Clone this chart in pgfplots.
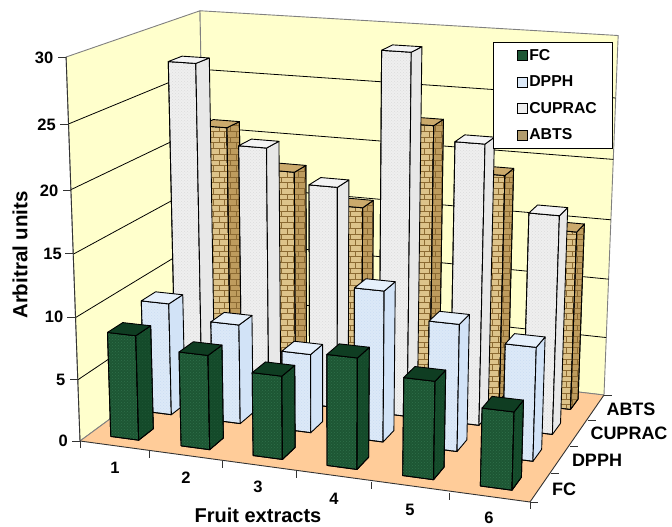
\documentclass[border=0pt]{standalone}
\usepackage{pgfplots}
\usepackage{pgfplotstable}
\usepackage{fontspec}
\setmainfont{Liberation Sans}
\pgfplotsset{compat=1.18}
\usetikzlibrary{patterns}

\definecolor{wallc}{HTML}{FFFFCC}
\definecolor{floorc}{HTML}{FFCC99}
\definecolor{fcA}{HTML}{1D5634}\definecolor{fcB}{HTML}{144A2A}\definecolor{fcT}{HTML}{0F3D22}\definecolor{fcP}{HTML}{2F7049}
\definecolor{dpA}{HTML}{DCE9F8}\definecolor{dpB}{HTML}{D2E3F7}\definecolor{dpT}{HTML}{E6F0FB}\definecolor{dpP}{HTML}{CBDDF2}
\definecolor{cuA}{HTML}{EFEFEF}\definecolor{cuB}{HTML}{E8E8E8}\definecolor{cuT}{HTML}{F4F4F4}\definecolor{cuP}{HTML}{DCDCDC}
\definecolor{abA}{HTML}{DDC38A}\definecolor{abB}{HTML}{BE9C5E}\definecolor{abT}{HTML}{CBAA6C}\definecolor{abP}{HTML}{8C6A32}

\pgfplotsset{
  FCfront/.style={fill=fcA,postaction={pattern=crosshatch dots,pattern color=fcP}},
  FCside/.style={fill=fcB,postaction={pattern=crosshatch dots,pattern color=fcA}},
  FCtop/.style={fill=fcT},
  DPfront/.style={fill=dpA,postaction={pattern=crosshatch dots,pattern color=dpP}},
  DPside/.style={fill=dpB},
  DPtop/.style={fill=dpT},
  CUfront/.style={fill=cuA,postaction={pattern=crosshatch dots,pattern color=cuP}},
  CUside/.style={fill=cuB},
  CUtop/.style={fill=cuT},
  ABfront/.style={fill=abA,postaction={pattern=bricks,pattern color=abP}},
  ABside/.style={fill=abB,postaction={pattern=bricks,pattern color=abP}},
  ABtop/.style={fill=abT},
}

% Unit offsets of the three visible faces of a bar standing in one floor cell
\pgfplotstableread[row sep=\\]{du dv dz\\ .3 .28 0\\ .7 .28 0\\ .7 .28 1\\ .3 .28 1\\ .3 .28 0\\}\frontface
\pgfplotstableread[row sep=\\]{du dv dz\\ .7 .28 0\\ .7 .72 0\\ .7 .72 1\\ .7 .28 1\\ .7 .28 0\\}\sideface
\pgfplotstableread[row sep=\\]{du dv dz\\ .3 .28 1\\ .7 .28 1\\ .7 .72 1\\ .3 .72 1\\ .3 .28 1\\}\topface

% #1 extract, #2 depth row, #3 value, #4 style prefix
\newcommand{\drawbar}[4]{%
  \addplot[#4front,draw=black,line width=0.9pt,line join=round,forget plot]
    table[x expr={px(#1-1+\thisrow{du},#2+\thisrow{dv},#3*\thisrow{dz})},
          y expr={py(#1-1+\thisrow{du},#2+\thisrow{dv},#3*\thisrow{dz})}]{\frontface};
  \addplot[#4side,draw=black,line width=0.9pt,line join=round,forget plot]
    table[x expr={px(#1-1+\thisrow{du},#2+\thisrow{dv},#3*\thisrow{dz})},
          y expr={py(#1-1+\thisrow{du},#2+\thisrow{dv},#3*\thisrow{dz})}]{\sideface};
  \addplot[#4top,draw=black,line width=0.9pt,line join=round,forget plot]
    table[x expr={px(#1-1+\thisrow{du},#2+\thisrow{dv},#3*\thisrow{dz})},
          y expr={py(#1-1+\thisrow{du},#2+\thisrow{dv},#3*\thisrow{dz})}]{\topface};
}

% A flat polygon or polyline given in chart space: extract, depth, value
\pgfplotsset{table/chart space/.style={x expr={px(\thisrow{u},\thisrow{v},\thisrow{h})},
                                 y expr={py(\thisrow{u},\thisrow{v},\thisrow{h})}}}

\begin{document}
\begin{tikzpicture}[x=1pt,y=1pt]
\useasboundingbox (0,0) rectangle (672,527);
\begin{axis}[
  at={(0,0)},anchor=south west,
  scale only axis,width=672pt,height=527pt,
  xmin=0,xmax=672,ymin=0,ymax=527,y dir=reverse,
  axis lines=none,clip=false,
  declare function={
    ww(\u,\v,\h)=1-0.07285*\u/6+0.1442*\v/4-0.0527*\h/30;
    px(\u,\v,\h)=(411.39*\u/6+155.71*\v/4-17.4*\h/30+80)/ww(\u,\v,\h);
    py(\u,\v,\h)=(24.43*\u/6-42.25*\v/4-387*\h/30+441)/ww(\u,\v,\h);
  },
  legend style={at={(axis cs:493,42)},anchor=north west,draw=black,line width=0.9pt,
    fill=white,font=\fontsize{15.8}{17}\selectfont\bfseries,inner xsep=14pt,inner ysep=5pt,
    row sep=10pt,cells={anchor=west}},
  legend image code/.code={\draw[#1,line width=0.8pt] (9pt,-5pt) rectangle (19pt,5pt);\path (0pt,0pt);},
]
% walls and floor
\addplot[fill=wallc,draw=gray,line width=0.9pt,forget plot] table[chart space,row sep=\\]{u v h\\ 0 0 0\\ 0 4 0\\ 0 4 30\\ 0 0 30\\ 0 0 0\\};
\addplot[fill=wallc,draw=gray,line width=0.9pt,forget plot] table[chart space,row sep=\\]{u v h\\ 0 4 0\\ 6 4 0\\ 6 4 30\\ 0 4 30\\ 0 4 0\\};
% grid lines over left and back wall
\addplot[black,line width=0.8pt,forget plot] table[chart space,row sep=\\]{u v h\\ 0 0 5\\ 0 4 5\\ 6 4 5\\};
\addplot[black,line width=0.8pt,forget plot] table[chart space,row sep=\\]{u v h\\ 0 0 10\\ 0 4 10\\ 6 4 10\\};
\addplot[black,line width=0.8pt,forget plot] table[chart space,row sep=\\]{u v h\\ 0 0 15\\ 0 4 15\\ 6 4 15\\};
\addplot[black,line width=0.8pt,forget plot] table[chart space,row sep=\\]{u v h\\ 0 0 20\\ 0 4 20\\ 6 4 20\\};
\addplot[black,line width=0.8pt,forget plot] table[chart space,row sep=\\]{u v h\\ 0 0 25\\ 0 4 25\\ 6 4 25\\};
\addplot[fill=floorc,draw=none,forget plot] table[chart space,row sep=\\]{u v h\\ 0 0 0\\ 6 0 0\\ 6 4 0\\ 0 4 0\\ 0 0 0\\};
\addplot[gray,line width=0.9pt,forget plot] table[chart space,row sep=\\]{u v h\\ 0 0 0\\ 0 4 0\\ 6 4 0\\};
% axis edges
\addplot[black!80,line width=0.9pt,forget plot] table[chart space,row sep=\\]{u v h\\ 0 0 30\\ 0 0 0\\ 6 0 0\\ 6 4 0\\};

% ABTS (back row)
\drawbar{1}{3}{21.1}{AB}\drawbar{2}{3}{17.8}{AB}\drawbar{3}{3}{15.3}{AB}
\drawbar{4}{3}{22.6}{AB}\drawbar{5}{3}{19.0}{AB}\drawbar{6}{3}{14.9}{AB}
% CUPRAC
\drawbar{1}{2}{27.5}{CU}\drawbar{2}{2}{21.1}{CU}\drawbar{3}{2}{18.4}{CU}
\drawbar{4}{2}{29.5}{CU}\drawbar{5}{2}{22.8}{CU}\drawbar{6}{2}{17.7}{CU}
% DPPH
\drawbar{1}{1}{9.3}{DP}\drawbar{2}{1}{8.2}{DP}\drawbar{3}{1}{6.45}{DP}
\drawbar{4}{1}{12.2}{DP}\drawbar{5}{1}{10.2}{DP}\drawbar{6}{1}{9.06}{DP}
% FC (front row)
\drawbar{1}{0}{8.5}{FC}\drawbar{2}{0}{7.6}{FC}\drawbar{3}{0}{6.65}{FC}
\drawbar{4}{0}{8.77}{FC}\drawbar{5}{0}{7.67}{FC}\drawbar{6}{0}{6.05}{FC}

% tick marks
\addplot[black!80,line width=0.9pt,forget plot] coordinates {(58,57)(66,57)};
\addplot[black!80,line width=0.9pt,forget plot] coordinates {(60,124)(68.5,124)};
\addplot[black!80,line width=0.9pt,forget plot] coordinates {(63,190)(71,190)};
\addplot[black!80,line width=0.9pt,forget plot] coordinates {(65,253)(73,253)};
\addplot[black!80,line width=0.9pt,forget plot] coordinates {(67,317)(75,317)};
\addplot[black!80,line width=0.9pt,forget plot] coordinates {(70,379)(78,379)};
\addplot[black!80,line width=0.9pt,forget plot] coordinates {(72,441)(80,441)};
\addplot[black!80,line width=0.9pt,forget plot] coordinates {(80,441)(80,448)};
\addplot[black!80,line width=0.9pt,forget plot] coordinates {(149,451)(149,458)};
\addplot[black!80,line width=0.9pt,forget plot] coordinates {(222,461)(222,468)};
\addplot[black!80,line width=0.9pt,forget plot] coordinates {(296,471)(296,478)};
\addplot[black!80,line width=0.9pt,forget plot] coordinates {(371,482)(371,489)};
\addplot[black!80,line width=0.9pt,forget plot] coordinates {(449,493)(449,500)};
\addplot[black!80,line width=0.9pt,forget plot] coordinates {(530,502)(530,509)};
\addplot[black!80,line width=0.9pt,forget plot] coordinates {(530,502)(538,502)};
\addplot[black!80,line width=0.9pt,forget plot] coordinates {(551,473)(559,473)};
\addplot[black!80,line width=0.9pt,forget plot] coordinates {(570,446)(578,446)};
\addplot[black!80,line width=0.9pt,forget plot] coordinates {(588,420)(596,420)};
\addplot[black!80,line width=0.9pt,forget plot] coordinates {(604,395)(612,395)};

% legend
\addlegendimage{fill=fcA,draw=black}\addlegendentry{FC}
\addlegendimage{fill=dpA,draw=black}\addlegendentry{DPPH}
\addlegendimage{fill=cuA,draw=black}\addlegendentry{CUPRAC}
\addlegendimage{fill=abA!80!black,draw=black}\addlegendentry{ABTS}

% value axis numbers
\begin{scope}[every node/.style={font=\fontsize{16.5}{18}\selectfont\bfseries,inner sep=0pt,text=black}]
\node[anchor=east] at (axis cs:53.5,58) {30};
\node[anchor=east] at (axis cs:56,125) {25};
\node[anchor=east] at (axis cs:58.5,191) {20};
\node[anchor=east] at (axis cs:62,254) {15};
\node[anchor=east] at (axis cs:63.5,317) {10};
\node[anchor=east] at (axis cs:65.5,380) {5};
\node[anchor=east] at (axis cs:68,441) {0};
\node at (axis cs:115,468) {1};
\node at (axis cs:186,478) {2};
\node at (axis cs:258,487) {3};
\node at (axis cs:334,499) {4};
\node at (axis cs:410,510) {5};
\node at (axis cs:489,518) {6};
\end{scope}
\begin{scope}[every node/.style={font=\fontsize{18}{20}\selectfont\bfseries,inner sep=0pt,text=black}]
\node at (axis cs:631,409) {ABTS};
\node at (axis cs:629,433) {CUPRAC};
\node at (axis cs:597,460) {DPPH};
\node at (axis cs:564,489) {FC};
\end{scope}
\node[font=\fontsize{20}{22}\selectfont\bfseries,inner sep=0pt,text=black] at (axis cs:258,515) {Fruit extracts};
\node[font=\fontsize{20.5}{22}\selectfont\bfseries,inner sep=0pt,text=black,rotate=90] at (axis cs:20,255) {Arbitral units};
\end{axis}
\end{tikzpicture}
\end{document}
